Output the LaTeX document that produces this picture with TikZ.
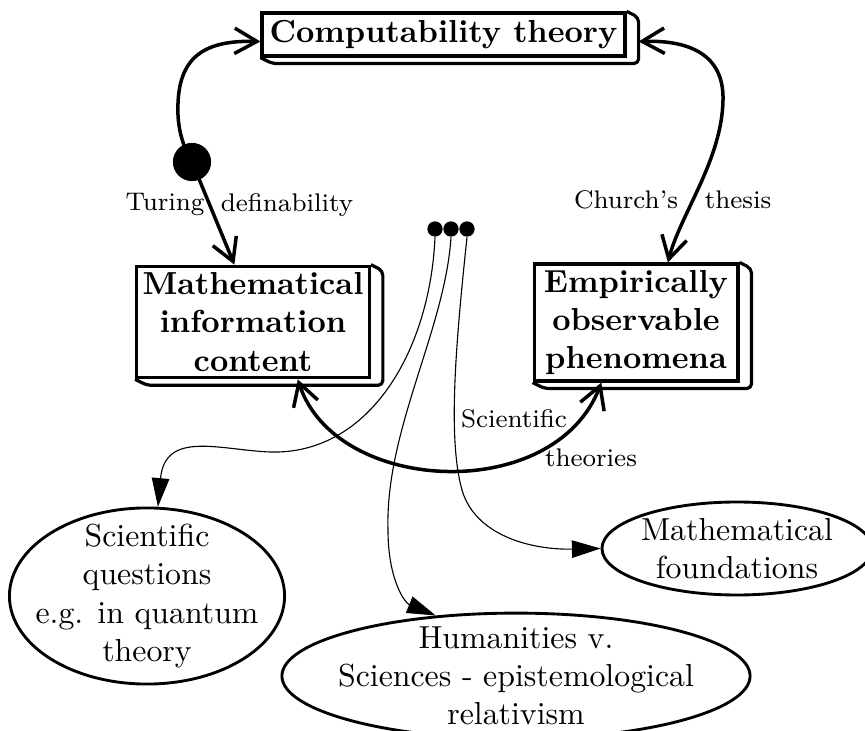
\documentclass[tikz,border=0pt]{standalone}
\usetikzlibrary{arrows.meta, shapes.geometric, positioning}
\tikzset{
    slab/.style={draw, line width=1pt, fill=white, font=\bfseries,
        align=center, inner sep=1pt},
    blob/.style 2 args={ellipse, draw, line width=.9pt, align=center,
        inner sep=-50pt, minimum width=#1, minimum height=#2},
    ball/.style={circle, fill, inner sep=0pt, minimum size=#1},
    lbl/.style={font=\footnotesize, inner sep=1pt},
    link/.style={line width=1.1pt,
        {Straight Barb[length=7pt,width=8pt]}-{Straight Barb[length=7pt,width=8pt]}},
    thread/.style={line width=.35pt, -{Triangle[length=9pt,width=5.5pt]}},
}

\begin{document}
\begin{tikzpicture}[x=0.314pt, y=-0.314pt]
    \useasboundingbox (0,0) rectangle (865,731);

    % boxes
    \node[slab, minimum width=114pt, minimum height=13.5pt] (comp)
        at (443.5,34.5) {Computability theory};
    \node[slab, minimum width=73pt, minimum height=35pt] (info)
        at (253,322) {Mathematical\\information\\content};
    \node[slab, minimum width=64pt, minimum height=36.7pt] (emp)
        at (636,322.5) {Empirically\\observable\\phenomena};
    \foreach \b in {comp, info, emp}{
        \draw[line width=1pt, line join=round, rounded corners=1.5pt]
            (\b.north east) -- ++(12,6)
            -- ([shift={(12,6)}]\b.south east)
            -- ([shift={(12,6)}]\b.south west) -- (\b.south west);
    }

    % outcomes
    \node[blob={86.4pt}{55.3pt}] (sq) at (147,596)
        {Scientific\\questions\\e.g. in quantum\\theory};
    \node[blob={84.8pt}{29.2pt}] (mf) at (737,548.5)
        {Mathematical\\foundations};
    \node[blob={147pt}{39.5pt}] (hum) at (516,676)
        {Humanities v.\\Sciences - epistemological\\relativism};

    \node[ball=12pt] (tdot) at (192,162) {};
    \foreach \n/\x in {d1/435, d2/451, d3/467}
        \node[ball=4.8pt] (\n) at (\x,229) {};

    \node[lbl] (turing) at (165,205) {Turing};
    \node[lbl] (defin) at (287,205) {definability};
    \node[lbl] (church) at (626,200) {Church's};
    \node[lbl] (thesis) at (738,200) {thesis};
    \node[lbl] (scient) at (514,419) {Scientific};
    \node[lbl] (theor) at (591,458) {theories};

    \draw[link] ([shift={(0,7)}]comp.west) .. controls (200,40) and (176,60)
        .. (178,115) .. controls (179,135) and (185,150) .. (tdot.center)
        -- (info.108);
    \draw[link] ([shift={(12,7)}]comp.east) .. controls (690,40) and (724,55)
        .. (723,100) .. controls (722,160) and (680,215) .. (emp.62);
    \draw[link] (info.-52) .. controls (335,495) and (555,505) .. (emp.240);

    \draw[thread] (d1.south) .. controls (430,350) and (370,455) .. (270,452)
        .. controls (220,450) and (165,430) .. (sq.83);
    \draw[thread] (d2.south) .. controls (445,330) and (385,430) .. (388,530)
        .. controls (388,580) and (405,603) .. (hum.143);
    \draw[thread] (d3.south) .. controls (455,350) and (448,440) .. (462,490)
        .. controls (475,535) and (530,550) .. (mf.west);
\end{tikzpicture}
\end{document}
